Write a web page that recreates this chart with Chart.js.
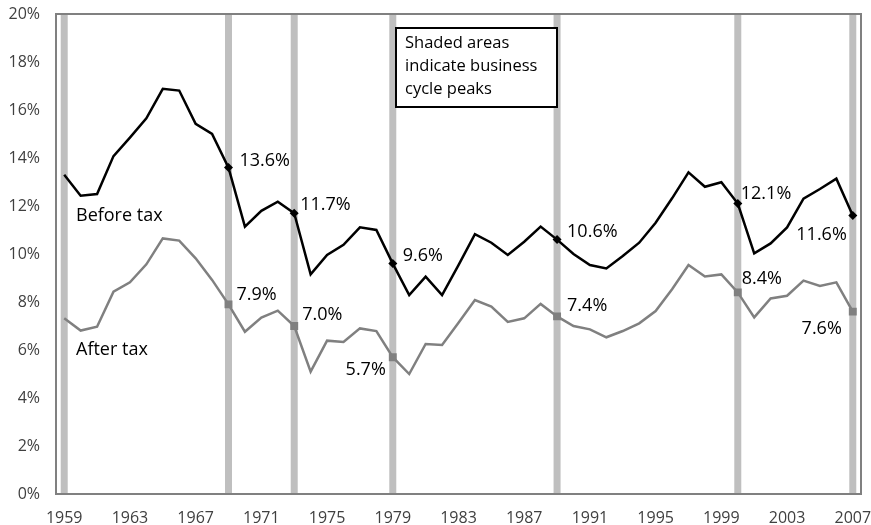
<!DOCTYPE html>
<html>
<head>
<meta charset="utf-8">
<script src="https://cdn.jsdelivr.net/npm/chart.js@4"></script>
<style>
html,body{margin:0;padding:0;background:#fff;}
#wrap{width:871px;height:525px;position:relative;}
</style>
</head>
<body>
<div id="wrap"><canvas id="c" width="871" height="525"></canvas></div>
<script>
const years = ['1959','1960','1961','1962','1963','1964','1965','1966','1967','1968',
  '1969','1970','1971','1972','1973','1974','1975','1976','1977','1978',
  '1979','1980','1981','1982','1983','1984','1985','1986','1987','1988',
  '1989','1990','1991','1992','1993','1994','1995','1996','1997','1998',
  '1999','2000','2001','2002','2003','2004','2005','2006','2007'];
const beforeTax = [13.3,12.43,12.5,14.08,14.85,15.65,16.88,16.81,15.42,15.0,
  13.6,11.14,11.8,12.18,11.7,9.15,9.96,10.38,11.11,11.0,
  9.6,8.29,9.06,8.29,9.54,10.83,10.47,9.96,10.51,11.14,
  10.6,10.0,9.54,9.40,9.92,10.47,11.3,12.32,13.4,12.8,
  12.99,12.1,10.03,10.44,11.11,12.31,12.71,13.14,11.6];
const afterTax = [7.32,6.81,6.97,8.43,8.82,9.57,10.65,10.56,9.82,8.92,
  7.9,6.76,7.35,7.64,7.0,5.10,6.39,6.33,6.90,6.79,
  5.7,5.0,6.25,6.21,7.14,8.08,7.81,7.17,7.32,7.92,
  7.4,7.0,6.86,6.53,6.79,7.11,7.62,8.53,9.54,9.06,
  9.15,8.4,7.36,8.15,8.26,8.89,8.67,8.82,7.6];
const peakYears = ['1959','1969','1973','1979','1989','2000','2007'];
const markedYears = ['1969','1973','1979','1989','2000','2007'];
const yTicks = [0,2,4,6,8,10,12,14,16,18,20];
const seriesNames = ['Before tax','After tax'];
const noteLines = ['Shaded areas','indicate business','cycle peaks'];

const FONT = '"Open Sans", "Noto Sans", sans-serif';

const markRadius = (r) => years.map(y => markedYears.includes(y) ? r : 0);

// label placement styles (pixel offsets from each marked point)
const labelStyle = [
  [ // before tax
    {a:'left',dx:11,dy:-7},{a:'left',dx:6,dy:-8},{a:'left',dx:10,dy:-8},
    {a:'left',dx:10,dy:-8},{a:'left',dx:3,dy:-10},{a:'right',dx:-6,dy:19}
  ],
  [ // after tax
    {a:'left',dx:8,dy:-10},{a:'left',dx:8,dy:-11},{a:'right',dx:-7,dy:13},
    {a:'left',dx:10,dy:-11},{a:'left',dx:4,dy:-14},{a:'right',dx:-11,dy:17}
  ]
];

const decor = {
  id:'decor',
  beforeDatasetsDraw(chart){
    const {ctx, chartArea:ca, scales:{x}} = chart;
    ctx.save();
    ctx.fillStyle = '#bfbfbf';
    peakYears.forEach(y => {
      const px = x.getPixelForValue(years.indexOf(y));
      ctx.fillRect(px - 3.5, ca.top, 7, ca.bottom - ca.top);
    });
    ctx.strokeStyle = '#808080';
    ctx.lineWidth = 2;
    ctx.strokeRect(ca.left, ca.top, ca.right - ca.left, ca.bottom - ca.top);
    ctx.restore();
  },
  afterDatasetsDraw(chart){
    const {ctx, chartArea:ca, scales:{x, y}} = chart;
    ctx.save();
    ctx.fillStyle = '#000';
    ctx.font = '18px ' + FONT;
    ctx.textBaseline = 'middle';
    [beforeTax, afterTax].forEach((arr, di) => {
      const meta = chart.getDatasetMeta(di);
      markedYears.forEach((yr, k) => {
        const i = years.indexOf(yr);
        const pt = meta.data[i];
        const st = labelStyle[di][k];
        ctx.textAlign = st.a;
        ctx.fillText(arr[i].toFixed(1) + '%', pt.x + st.dx, pt.y + st.dy);
      });
    });
    // series name labels
    ctx.textAlign = 'left';
    ctx.fillText(seriesNames[0], ca.left + 20, y.getPixelForValue(11.6));
    ctx.fillText(seriesNames[1], ca.left + 20, y.getPixelForValue(6.0));
    // note box
    const bx = ca.left + 340, by = ca.top + 14, bw = 161, bh = 79;
    ctx.fillStyle = '#fff';
    ctx.fillRect(bx, by, bw, bh);
    ctx.strokeStyle = '#000';
    ctx.lineWidth = 2;
    ctx.strokeRect(bx, by, bw, bh);
    ctx.fillStyle = '#000';
    ctx.font = '16.5px ' + FONT;
    noteLines.forEach((t, i) => ctx.fillText(t, bx + 9, by + 15 + i * 23));
    ctx.restore();
  }
};

new Chart(document.getElementById('c'), {
  type:'line',
  data:{
    labels: years,
    datasets:[
      {label: seriesNames[0], data: beforeTax, borderColor:'#000', backgroundColor:'#000',
       borderWidth:2.5, pointStyle:'rectRot', pointRadius: markRadius(4.5), pointBorderWidth:0,
       tension:0, fill:false},
      {label: seriesNames[1], data: afterTax, borderColor:'#808080', backgroundColor:'#808080',
       borderWidth:2.5, pointStyle:'rect', pointRadius: markRadius(5.6), pointBorderWidth:0,
       tension:0, fill:false}
    ]
  },
  options:{
    responsive:false,
    animation:false,
    events:[],
    layout:{padding:{top:14,right:10,left:0,bottom:0}},
    plugins:{legend:{display:false}, tooltip:{enabled:false}},
    scales:{
      x:{
        type:'category', offset:true,
        grid:{display:false, drawTicks:false},
        border:{display:false},
        ticks:{
          autoSkip:false, maxRotation:0, padding:15,
          color:'#404040', font:{family:FONT, size:16},
          callback:(v,i)=> ((+years[i]) - 1959) % 4 === 0 ? years[i] : ''
        },
        afterFit:(s)=>{ s.height = 31; s.paddingLeft = 0; s.paddingRight = 0; }
      },
      y:{
        min:0, max:20,
        grid:{display:false, drawTicks:false},
        border:{display:false},
        afterBuildTicks:(s)=>{ s.ticks = yTicks.map(v=>({value:v})); },
        ticks:{
          padding:16, color:'#404040', font:{family:FONT, size:16},
          callback:(v)=> v + '%'
        },
        afterFit:(s)=>{ s.width = 56; s.paddingTop = 0; s.paddingBottom = 0; }
      }
    }
  },
  plugins:[decor]
});
</script>
</body>
</html>
